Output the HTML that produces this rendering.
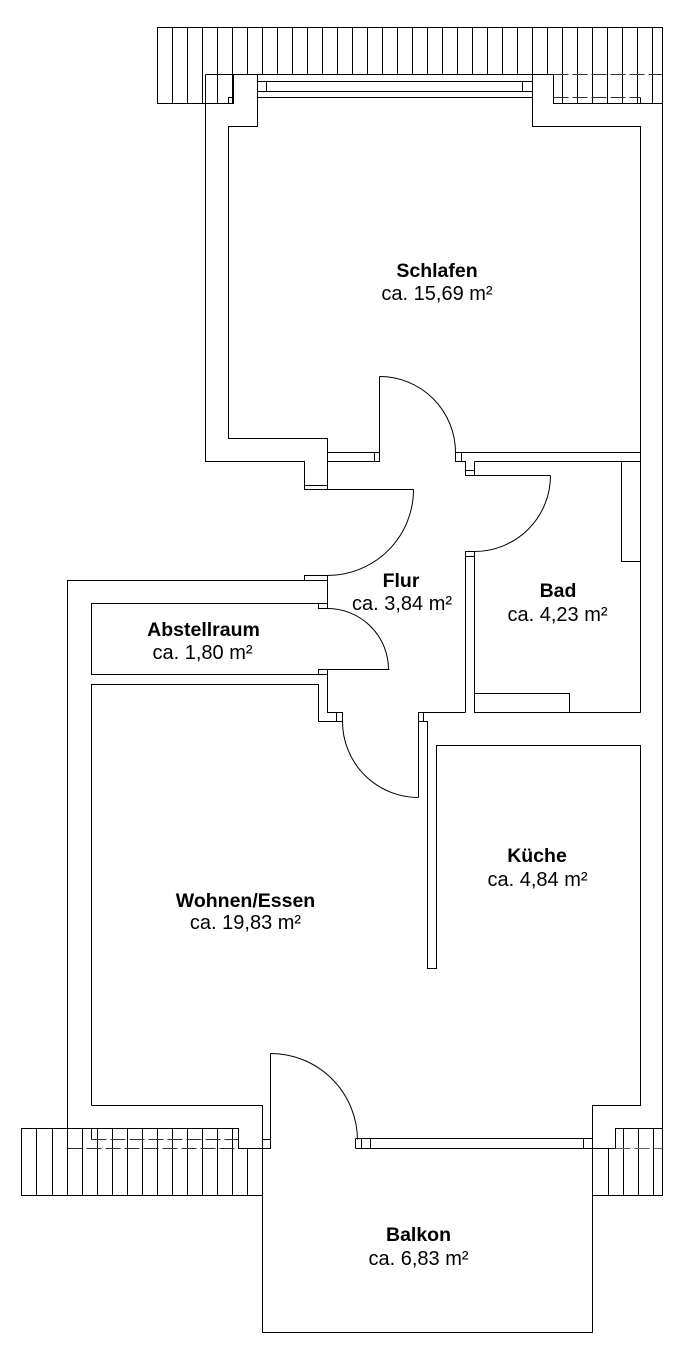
<!DOCTYPE html>
<html>
<head>
<meta charset="utf-8">
<style>
  html, body { margin:0; padding:0; background:#fff; }
  svg { display:block; }
  .b { font-family: "Liberation Sans", Arial, sans-serif; font-weight:bold; font-size:19.5px; fill:#000; }
  .r { font-family: "Liberation Sans", Arial, sans-serif; font-size:20px; fill:#000; }
</style>
</head>
<body>
<svg width="698" height="1358" viewBox="0 0 698 1358" xmlns="http://www.w3.org/2000/svg">
<rect width="698" height="1358" fill="#fff"/>
<g transform="translate(0.5,0.5)" fill="none" stroke="#000" stroke-width="1">
  <!-- Top roof hatch -->
  <path d="M157 27 H662 V103 H553 V74 H233 V103 H157 Z"/>
  <path d="M172 27V103 M187 27V103 M202 27V103 M217 27V103 M232 27V103
           M247 27V74 M262 27V74 M277 27V74 M292 27V74 M307 27V74 M322 27V74 M337 27V74 M352 27V74
           M367 27V74 M382 27V74 M397 27V74 M412 27V74 M427 27V74 M442 27V74 M457 27V74 M472 27V74
           M487 27V74 M502 27V74 M517 27V74 M532 27V74 M547 27V74
           M562 27V103 M577 27V103 M592 27V103 M607 27V103 M622 27V103 M637 27V103 M652 27V103"/>
  <path d="M553 74 H662 M553 97 H640" stroke-dasharray="15 4" stroke="#333"/>
  <path d="M640 97 V103"/>
  <path d="M205 74 H233"/>
  <path d="M228 103 V97 H233"/>

  <!-- Schlafen -->
  <path d="M205 74 V461 H304 V489 H413"/>
  <path d="M257 74 V126 H228 V438 H327 V489"/>
  <path d="M532 74 V126 H640 V712"/>
  <!-- top window -->
  <path d="M257 81 H532 M257 91 H532 M257 97 H532 M266 81 V91 M522 81 V91"/>

  <!-- Schlafen/Flur wall + door -->
  <path d="M327 452 H374 M327 461 H374"/>
  <rect x="374" y="452" width="5" height="9"/>
  <path d="M379 376 V461"/>
  <path d="M379 376 A76 76 0 0 1 455 452"/>
  <rect x="455" y="452" width="6" height="9"/>
  <path d="M461 452 H640"/>

  <!-- Bad -->
  <path d="M461 461 H465 V475 H474 V461 M465 470 H474 M474 461 H640"/>
  <path d="M474 475 H550"/>
  <path d="M550 475 A76 76 0 0 1 474 551"/>
  <rect x="465" y="551" width="9" height="5"/>
  <path d="M465 556 V712 M474 556 V712"/>
  <path d="M418 712 H465 M474 712 H640"/>
  <rect x="621" y="461" width="19" height="100"/>
  <rect x="474" y="693" width="95" height="19"/>

  <!-- Entry door -->
  <path d="M304 485 H327"/>
  <path d="M413 489 A86 86 0 0 1 327 575"/>
  <rect x="304" y="575" width="23" height="5"/>
  <path d="M304 580 H67 V1148"/>
  <path d="M327 575 V603"/>

  <!-- Abstellraum -->
  <path d="M318 603 H91 V674 H318"/>
  <rect x="318" y="603" width="9" height="5"/>
  <rect x="318" y="669" width="9" height="5"/>
  <path d="M327 669 H389"/>
  <path d="M327 608 A61 61 0 0 1 388 669"/>
  <path d="M327 674 V712 H342"/>

  <!-- Wohnen -->
  <path d="M91 1105 V684 H318 V721 H336"/>
  <rect x="336" y="712" width="6" height="9"/>
  <path d="M418 721 V797"/>
  <path d="M342 721 A76 76 0 0 0 418 797"/>
  <rect x="418" y="712" width="5" height="9"/>
  <path d="M423 721 H427 V968 H436 V745 H640 V1105 H592 V1332 H262 V1105 H91"/>

  <!-- Balcony door -->
  <rect x="262" y="1139" width="8" height="9"/>
  <path d="M270 1053 V1148"/>
  <path d="M270 1053 A87 87 0 0 1 357 1139"/>
  <!-- Bottom window -->
  <path d="M355 1138 H592 M355 1148 H592 M355 1138 V1148 M361 1138 V1148 M370 1138 V1148 M583 1138 V1148"/>

  <!-- Outer right -->
  <path d="M662 27 V1195"/>

  <!-- Left balcony hatch -->
  <path d="M21 1128 H238 V1148 H262 V1195 H21 Z"/>
  <path d="M36 1128V1195 M52 1128V1195 M67 1128V1195 M82 1128V1195 M97 1128V1195 M112 1128V1195
           M127 1128V1195 M142 1128V1195 M157 1128V1195 M172 1128V1195 M187 1128V1195 M202 1128V1195
           M217 1128V1195 M232 1128V1195 M247 1148V1195"/>
  <path d="M91 1139 H238 M67 1148 H238" stroke-dasharray="15 4" stroke="#333"/>
  <path d="M91 1128 V1139"/>

  <!-- Right balcony hatch -->
  <path d="M615 1128 H662 V1195 H592 V1148 H615 Z"/>
  <path d="M608 1148V1195 M623 1128V1195 M638 1128V1195 M653 1128V1195"/>
  <path d="M615 1148 H662" stroke-dasharray="15 4" stroke="#666"/>
</g>

<!-- Labels -->
<g text-anchor="middle">
  <text class="b" x="437" y="277">Schlafen</text>
  <text class="r" x="437" y="300">ca. 15,69 m²</text>

  <text class="b" x="401" y="587">Flur</text>
  <text class="r" x="402" y="610">ca. 3,84 m²</text>

  <text class="b" x="558" y="597">Bad</text>
  <text class="r" x="557.5" y="621">ca. 4,23 m²</text>

  <text class="b" x="203.5" y="636">Abstellraum</text>
  <text class="r" x="202.5" y="659">ca. 1,80 m²</text>

  <text class="b" x="537" y="862">Küche</text>
  <text class="r" x="537.5" y="886">ca. 4,84 m²</text>

  <text class="b" x="245.5" y="907">Wohnen/Essen</text>
  <text class="r" x="245.5" y="929">ca. 19,83 m²</text>

  <text class="b" x="418.5" y="1241">Balkon</text>
  <text class="r" x="418.5" y="1265">ca. 6,83 m²</text>
</g>
</svg>
</body>
</html>
